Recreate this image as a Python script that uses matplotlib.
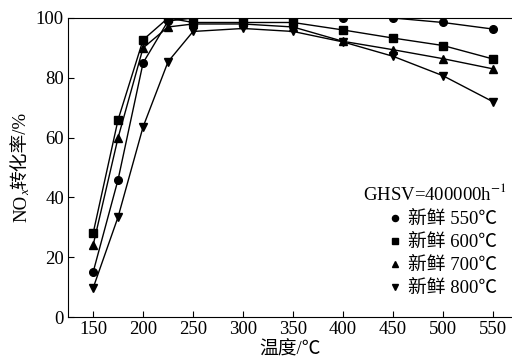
import matplotlib
matplotlib.use("Agg")
import matplotlib.pyplot as plt

plt.rcParams['font.family'] = ['Liberation Serif', 'Noto Sans CJK SC', 'DejaVu Sans']
plt.rcParams['mathtext.fontset'] = 'stix'

temps = [150, 175, 200, 225, 250, 300, 350, 400, 450, 500, 550]
conv_550 = [15, 46, 85, 99, 100, 100, 100, 100, 100, 98.5, 96.3]
conv_600 = [28, 66, 92.7, 100, 98.5, 98.5, 98.5, 96, 93.3, 90.8, 86.3]
conv_700 = [24, 60, 90, 97, 98, 98, 97, 92.2, 89.4, 86.4, 83]
conv_800 = [9.7, 33.5, 63.6, 85.4, 95.5, 96.5, 95.5, 92, 87.2, 80.7, 72]
labels = ["新鲜 550℃", "新鲜 600℃", "新鲜 700℃", "新鲜 800℃"]
markers = ['o', 's', '^', 'v']

FS = 13.5


def ylabel_pieces(fig):
  # NO_x转化率/% drawn in pieces, mathtext can't do the CJK part
  W, H = fig.get_size_inches() * fig.dpi
  pieces = [("NO", {}, 0), ("x", {'style': 'italic', 'size': FS * 0.7}, 4), ("转化率/%", {}, 0)]
  texts = []
  for s, kw, dx in pieces:
    props = {'size': FS}
    props.update(kw)
    t = fig.text(0, 0, s, rotation=90, ha='center', va='bottom', **props)
    texts.append((t, dx))
  fig.canvas.draw()
  r = fig.canvas.get_renderer()
  lens = [t.get_window_extent(r).height for t, dx in texts]
  yb = 167 + sum(lens) / 2
  for (t, dx), l in zip(texts, lens):
    t.set_position(((22 + dx) / W, 1 - yb / H))
    yb -= l


def graph():
  fig = plt.figure(figsize=(5.12, 3.6), dpi=100)
  ax = fig.add_axes([0.133, 0.119, 0.867, 0.831])
  for data, m, lab in zip([conv_550, conv_600, conv_700, conv_800], markers, labels):
    ax.plot(temps, data, color='black', marker=m, markersize=5.5, linewidth=1, label=lab)

  ax.set_xlim(125, 569)
  ax.set_ylim(0, 100)
  ax.set_xticks(range(150, 551, 50))
  ax.set_yticks(range(0, 101, 20))
  ax.tick_params(direction='in', length=4, labelsize=FS, width=0.8, pad=3)
  ax.spines['right'].set_visible(False)
  ax.set_xlabel("温度/℃", fontsize=FS, labelpad=2)

  ax.text(0.989, 0.415, "GHSV=400000h$^{-1}$", transform=ax.transAxes,
          ha='right', va='center', fontsize=FS)
  leg = ax.legend(loc='lower right', bbox_to_anchor=(0.966, 0.067),
                  frameon=False, fontsize=FS, handlelength=0.6,
                  handletextpad=0.4, labelspacing=0.31, markerscale=0.8,
                  borderaxespad=0, borderpad=0)
  for line in leg.get_lines():
    line.set_linestyle('none')

  ylabel_pieces(fig)
  fig.savefig("out.png")


if __name__ == "__main__":
  graph()
